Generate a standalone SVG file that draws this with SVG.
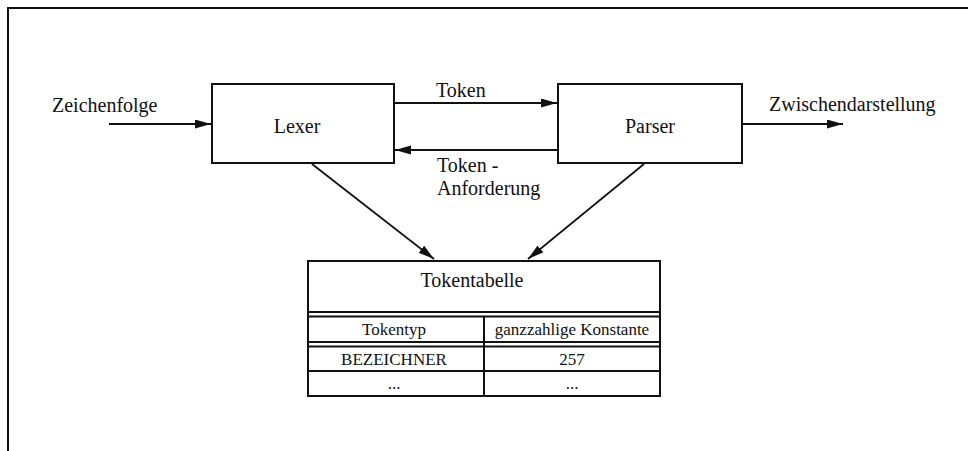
<svg xmlns="http://www.w3.org/2000/svg" width="968" height="451" viewBox="0 0 968 451">
  <style>
    text { font-family: "Liberation Serif", "Times New Roman", serif; fill: #111; }
    .lbl { font-size: 20px; }
    .cell { font-size: 17px; text-anchor: middle; }
    .box { fill: #fff; stroke: #111; stroke-width: 2; }
    .edge { stroke: #111; stroke-width: 1.8; fill: none; marker-end: url(#head); }
    .rule { stroke: #111; stroke-width: 2; fill: none; }
  </style>
  <defs>
    <marker id="head" markerUnits="userSpaceOnUse" markerWidth="17" markerHeight="10" refX="16" refY="4.5" orient="auto">
      <path d="M0,0 L16,4.5 L0,9 z" fill="#111"/>
    </marker>
  </defs>
  <rect width="968" height="451" fill="#fff"/>

  <!-- page frame -->
  <path class="rule" d="M8,451 V8 H968"/>

  <g id="lexer">
    <rect class="box" x="212" y="84" width="182" height="79"/>
    <text class="lbl" x="297" y="133" text-anchor="middle">Lexer</text>
  </g>

  <g id="parser">
    <rect class="box" x="558" y="84" width="184" height="79"/>
    <text class="lbl" x="650" y="133" text-anchor="middle">Parser</text>
  </g>

  <g id="tokentabelle">
    <rect class="box" x="308" y="261" width="352" height="135"/>
    <text class="lbl" x="472" y="287" text-anchor="middle">Tokentabelle</text>
    <line class="rule" x1="308" y1="312" x2="660" y2="312"/>
    <line class="rule" x1="308" y1="316.5" x2="660" y2="316.5"/>
    <line class="rule" x1="308" y1="342" x2="660" y2="342"/>
    <line class="rule" x1="308" y1="346.5" x2="660" y2="346.5"/>
    <line class="rule" x1="308" y1="371" x2="660" y2="371"/>
    <line class="rule" x1="484" y1="316" x2="484" y2="396"/>
    <text class="cell" x="394" y="335">Tokentyp</text>
    <text class="cell" x="572" y="335">ganzzahlige Konstante</text>
    <text class="cell" x="394" y="365">BEZEICHNER</text>
    <text class="cell" x="572" y="365">257</text>
    <text class="cell" x="394" y="389">...</text>
    <text class="cell" x="572" y="389">...</text>
  </g>

  <g id="connectors">
    <line class="edge" x1="109" y1="124" x2="211" y2="124"/>
    <line class="edge" x1="395" y1="103" x2="557" y2="103"/>
    <line class="edge" x1="557" y1="150" x2="395" y2="150"/>
    <line class="edge" x1="743" y1="124" x2="843" y2="124"/>
    <line class="edge" x1="312" y1="164" x2="434" y2="259"/>
    <line class="edge" x1="644" y1="164" x2="528" y2="259"/>
  </g>

  <g id="labels">
    <text class="lbl" x="52" y="112">Zeichenfolge</text>
    <text class="lbl" x="436" y="97">Token</text>
    <text class="lbl" x="437" y="172">Token -</text>
    <text class="lbl" x="437" y="195">Anforderung</text>
    <text class="lbl" x="769" y="111">Zwischendarstellung</text>
  </g>
</svg>
